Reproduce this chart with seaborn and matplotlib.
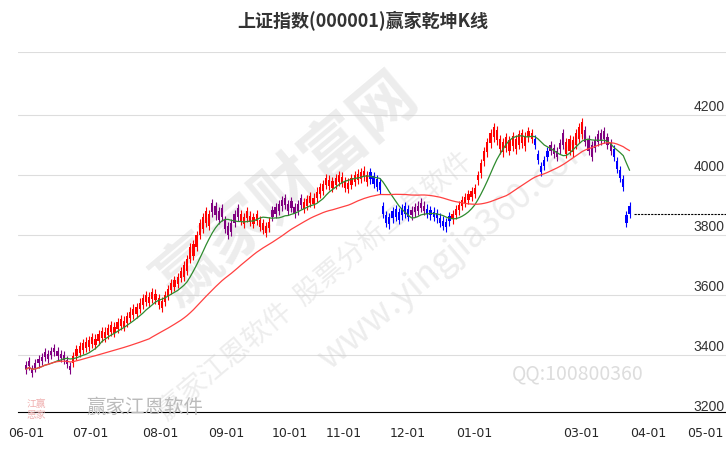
import numpy as np
import pandas as pd
import matplotlib
matplotlib.use("Agg")
import matplotlib.pyplot as plt
import matplotlib.transforms as mtrans
import seaborn as sns

closes = [3352,3365,3340,3358,3372,3380,3395,3388,3400,3410,3398,3390,3385,3370,3350,
          3395,3420,3430,3440,3445,
          3450,3460,3455,3470,3480,3478,3490,3500,3495,3510,3520,3515,3530,3545,3555,3560,3575,3590,
          3600,3595,3610,3605,3590,3580,3600,3620,3640,3650,3660,3680,
          3700,3720,3760,3770,3800,3840,3860,3880,3870,
          3875,3865,3850,3860,3820,3800,3810,3840,3860,
          3870,3860,3880,3865,3860,3870,3850,3840,3830,3845,
          3860,3870,3880,3895,3900,3880,3890,3870,3880,3900,
          3910,3920,3930,3925,3945,3960,3970,3990,3985,3980,3990,4000,3995,3980,3975,3990,4000,4005,4010,4015,4000,
          3985,3970,3960,3950,
          3870,3840,3835,3855,3860,3850,3865,3870,3860,
          3865,3875,3880,3890,3880,3870,3865,3860,3855,
          3840,3830,3825,3845,
          3870,3885,3900,3915,3925,3935,3945,3955,
          4000,4040,4080,4110,4140,4160,4150,
          4120,4110,4125,4115,4130,4120,4135,4140,4130,4145,4140,
          4100,4050,4010,4030,4060,
          4080,4070,4060,4085,4100,
          4110,4120,4115,4140,4160,4175,
          4110,4080,4060,4090,
          4110,4115,4120,4100,4080,
          4060,4020,3990,3960,
          3840,3870]
# colour code per candle: r = up, b = down, p = weak
colors_code = ("p" * 15 + "r" * 44 + "p" * 9 + "r" * 10 + "p" * 10 + "r" * 21
               + "b" * 4 + "b" * 9 + "p" * 5 + "b" * 4 + "b" * 4 + "r" * 8 + "r" * 7 + "r" * 11
               + "b" * 5 + "p" * 5 + "r" * 6 + "p" * 4 + "p" * 5 + "b" * 4 + "b" * 2)
# body height (index points) per run of candles
body_runs = [(15, 14), (35, 22), (9, 40), (9, 30), (41, 22), (13, 25), (22, 18),
             (15, 35), (11, 20), (10, 40), (6, 25), (14, 25), (2, 60)]
tick_pos = [0, 20.5, 42.6, 63.4, 83.6, 100.6, 120.8, 142, 175.7, 196.8, 215]
tick_labels = ["06-01", "07-01", "08-01", "09-01", "10-01", "11-01", "12-01", "01-01", "03-01", "04-01", "05-01"]
y_ticks = [3200, 3400, 3600, 3800, 4000, 4200]
last_level = 3870

sns.set_style("white")
plt.rcParams["font.family"] = ["Noto Sans CJK SC", "DejaVu Sans"]

n = len(closes)
bodies = np.concatenate([[h] * k for k, h in body_runs])[:n]
sign = np.array([1 if c == "r" else -1 for c in colors_code[:n]])
close_arr = np.array(closes, float)
open_arr = close_arr - sign * bodies
df = pd.DataFrame({"i": np.arange(n), "open": open_arr, "close": close_arr})
df["ma10"] = df["close"].rolling(10, min_periods=1).mean()
df["ma40"] = df["close"].rolling(40, min_periods=1).mean()
cmap = {"r": "#ff0000", "b": "#0000ff", "p": "#800080"}
df["col"] = [cmap[c] for c in colors_code[:n]]

fig = plt.figure(figsize=(7.26, 4.5), dpi=100)
ax = fig.add_axes([18/726, 38/450, 708/726, 360/450])
ax.set_ylim(3210, 4410)
ax.set_xlim(-2.5, 221.5)

for y in y_ticks[1:]:
    ax.axhline(y, color="#dddddd", lw=0.8, zorder=0)
ax.axhline(4410, color="#dddddd", lw=1.5, zorder=0)

lo = np.minimum(df["open"], df["close"])
hi = np.maximum(df["open"], df["close"])
ax.vlines(df["i"], lo - 14, hi + 14, colors=df["col"], lw=0.8, zorder=2)
ax.bar(df["i"], hi - lo, bottom=lo, width=0.7, color=df["col"], lw=0, zorder=3)

sns.lineplot(data=df, x="i", y="ma10", ax=ax, color="#2e8b2e", lw=0.9, zorder=4)
sns.lineplot(data=df, x="i", y="ma40", ax=ax, color="#ff4040", lw=0.9, zorder=4)
ax.plot([n + 0.5, 221.5], [last_level, last_level], color="black", lw=0.8, ls=(0, (2, 1)))

ax.set_xticks(tick_pos)
ax.set_xticklabels(tick_labels, fontsize=9, family=["Liberation Sans Narrow", "DejaVu Sans"])
ax.tick_params(axis="x", direction="out", length=8, width=0.8, pad=3)
ax.set_yticks([])
ax.set_xlabel(""); ax.set_ylabel("")
for s in ["top", "right", "left"]:
    ax.spines[s].set_visible(False)
ax.spines["bottom"].set_color("black")
tr = mtrans.blended_transform_factory(ax.transAxes, ax.transData)
for y in y_ticks:
    ax.text(0.998, y + 4, str(y), transform=tr, ha="right", va="bottom", fontsize=10,
            color="#333333", family=["Liberation Sans", "DejaVu Sans"])

wm = dict(color="#cccccc", alpha=0.35, ha="center", va="center", zorder=1, transform=ax.transAxes)
ax.text(0.38, 0.62, "赢家财富网", fontsize=46, rotation=40, fontweight="bold", **wm)
ax.text(0.42, 0.35, "赢家江恩软件  股票分析工具软件", fontsize=20, rotation=40, **wm)
ax.text(0.62, 0.45, "www.yingjia360.com", fontsize=26, rotation=40, **wm)
ax.text(0.79, 0.105, "QQ:100800360", fontsize=14, color="#dddddd", ha="center", va="center",
        transform=ax.transAxes, zorder=1)
fig.text(0.2, 0.095, "赢家江恩软件", fontsize=14, color="#bbbbbb", ha="center", va="center")
fig.text(0.05, 0.09, "江赢\n恩家", fontsize=7, color="#f0b0b0", ha="center", va="center")

fig.text(0.5, 0.94, "上证指数(000001)赢家乾坤K线", fontsize=13, fontweight="bold", ha="center", color="#333333")
fig.savefig("out.png", dpi=100)
